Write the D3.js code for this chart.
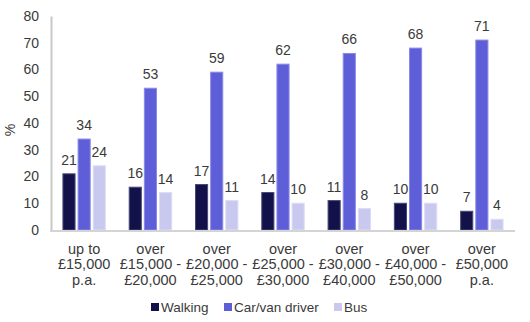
<!DOCTYPE html>
<html><head><meta charset="utf-8">
<script src="https://cdn.jsdelivr.net/npm/d3@7"></script>
<style>body{margin:0;background:#fff}svg{font-family:"Liberation Sans",Arial,sans-serif}</style>
</head><body><svg id="c" width="530" height="322"></svg>
<script>
const categories = [
  ["up to","£15,000","p.a."],
  ["over","£15,000 -","£20,000"],
  ["over","£20,000 -","£25,000"],
  ["over","£25,000 -","£30,000"],
  ["over","£30,000 -","£40,000"],
  ["over","£40,000 -","£50,000"],
  ["over","£50,000","p.a."]
];
const seriesNames = ["Walking","Car/van driver","Bus"];
const walking = [21,16,17,14,11,10,7];
const carVan = [34,53,59,62,66,68,71];
const bus = [24,14,11,10,8,10,4];
const yTicks = [0,10,20,30,40,50,60,70,80];
const colors = ["#12114A","#5E5ED8","#C9C9F0"];
const strokes = ["#4a4a78","#8a8ae6","#dcdcf6"];

(function(){
const series = [walking, carVan, bus];
const svg = d3.select("#c");
const mLeft = 51, mRight = 515, mTop = 16, mBottom = 230;
const x = d3.scaleBand().domain(d3.range(categories.length)).range([mLeft, mRight]).paddingInner(0.36).paddingOuter(0.18);
const xs = d3.scaleBand().domain(d3.range(3)).range([0, x.bandwidth()]).paddingInner(0.2);
const y = d3.scaleLinear().domain([0,80]).range([mBottom, mTop]);
const txt = "#3a3a3a";

const ya = svg.append("g").attr("transform",`translate(${mLeft},0)`)
  .call(d3.axisLeft(y).tickValues(yTicks).tickSize(0).tickPadding(12));
ya.select(".domain").attr("stroke","#c8c8c8").attr("stroke-width",2);
ya.selectAll("text").attr("font-size",14).attr("fill",txt).attr("font-family","Liberation Sans, Arial, sans-serif");

svg.append("text").attr("transform",`translate(15,130) rotate(-90)`).attr("text-anchor","middle")
  .attr("font-size",14).attr("fill",txt).text("%");

series.forEach((vals, si) => {
  const g = svg.append("g");
  g.selectAll("rect").data(vals).join("rect")
    .attr("x",(d,i)=>x(i)+xs(si)).attr("width",xs.bandwidth())
    .attr("y",d=>y(d)).attr("height",d=>mBottom-y(d))
    .attr("fill",colors[si]).attr("stroke",strokes[si]).attr("stroke-width",1);
  g.selectAll("text").data(vals).join("text")
    .attr("x",(d,i)=>x(i)+xs(si)+xs.bandwidth()/2).attr("y",d=>y(d)-9)
    .attr("text-anchor","middle").attr("font-size",14).attr("fill",txt).text(d=>d);
});

svg.append("line").attr("x1",mLeft-1).attr("x2",mRight).attr("y1",mBottom+1).attr("y2",mBottom+1)
  .attr("stroke","#d4d4d4").attr("stroke-width",2);

const xl = svg.append("g");
categories.forEach((lines,i)=>{
  const t = xl.append("text").attr("text-anchor","middle").attr("font-size",14.5).attr("fill",txt)
    .attr("x",x(i)+x.bandwidth()/2);
  lines.forEach((l,j)=>t.append("tspan").attr("x",x(i)+x.bandwidth()/2).attr("y",253.5+j*15.5).text(l));
});

const legX = [151,224,334];
seriesNames.forEach((n,i)=>{
  svg.append("rect").attr("x",legX[i]).attr("y",303).attr("width",8).attr("height",8).attr("fill",colors[i]);
  svg.append("text").attr("x",legX[i]+10).attr("y",312).attr("font-size",13.5).attr("fill",txt).text(n);
});
})();
</script></body></html>
